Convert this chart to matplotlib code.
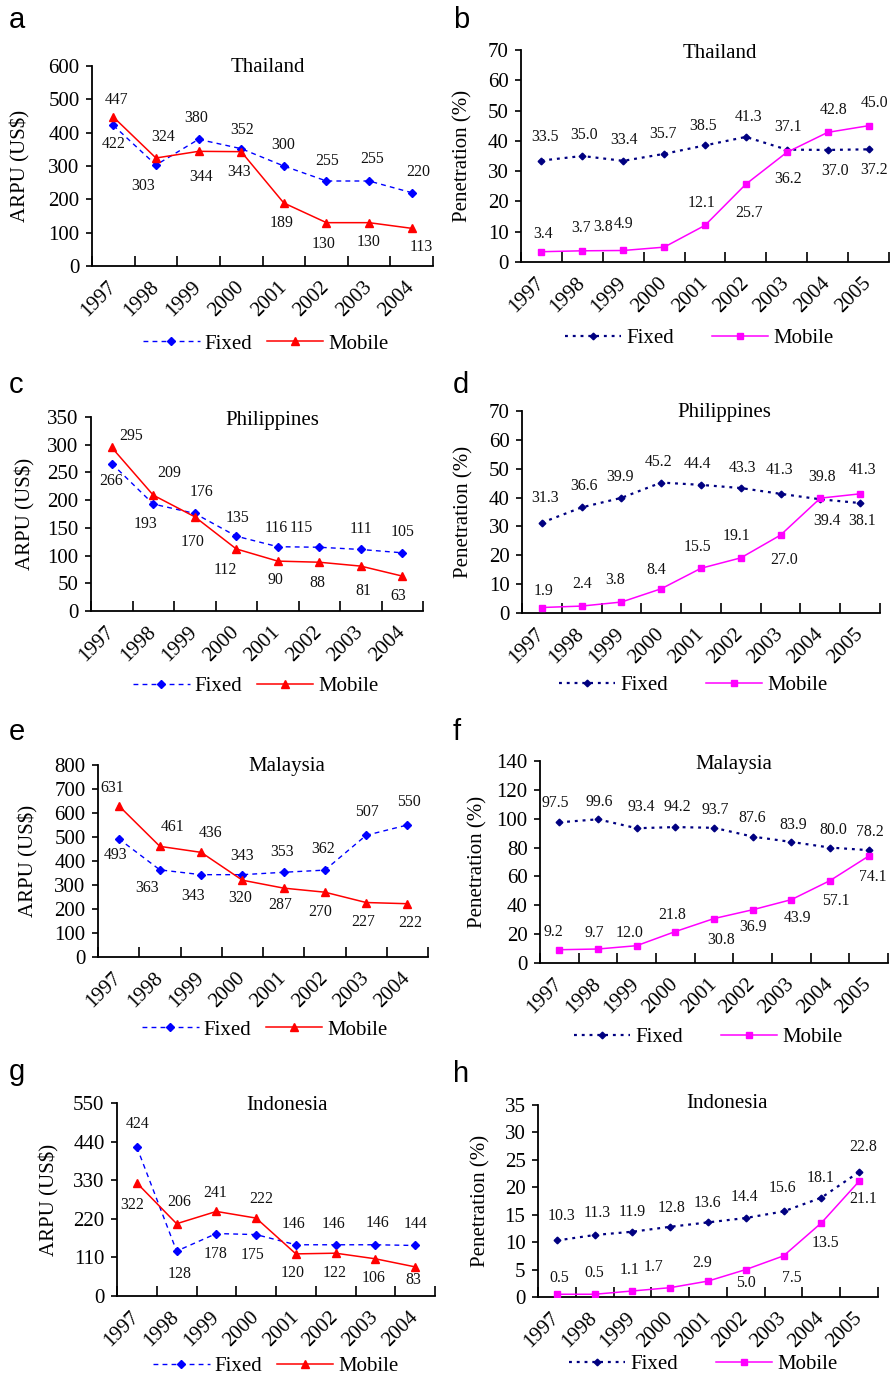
import matplotlib
matplotlib.use('Agg')
import matplotlib.pyplot as plt
import numpy as np

plt.rcParams['font.family'] = ['Liberation Serif', 'DejaVu Serif']

W, H = 891, 1377

# ---------------- data ----------------
years_arpu = ['1997', '1998', '1999', '2000', '2001', '2002', '2003', '2004']
years_pen = ['1997', '1998', '1999', '2000', '2001', '2002', '2003', '2004', '2005']

thai_arpu_fixed = [422, 303, 380, 352, 300, 255, 255, 220]
thai_arpu_mobile = [447, 324, 344, 343, 189, 130, 130, 113]
thai_pen_fixed = [33.5, 35.0, 33.4, 35.7, 38.5, 41.3, 37.1, 37.0, 37.2]
thai_pen_mobile = [3.4, 3.7, 3.8, 4.9, 12.1, 25.7, 36.2, 42.8, 45.0]

phil_arpu_fixed = [266, 193, 176, 135, 116, 115, 111, 105]
phil_arpu_mobile = [295, 209, 170, 112, 90, 88, 81, 63]
phil_pen_fixed = [31.3, 36.6, 39.9, 45.2, 44.4, 43.3, 41.3, 39.4, 38.1]
phil_pen_mobile = [1.9, 2.4, 3.8, 8.4, 15.5, 19.1, 27.0, 39.8, 41.3]

mal_arpu_fixed = [493, 363, 343, 343, 353, 362, 507, 550]
mal_arpu_mobile = [631, 461, 436, 320, 287, 270, 227, 222]
mal_pen_fixed = [97.5, 99.6, 93.4, 94.2, 93.7, 87.6, 83.9, 80.0, 78.2]
mal_pen_mobile = [9.2, 9.7, 12.0, 21.8, 30.8, 36.9, 43.9, 57.1, 74.1]

indo_arpu_fixed = [424, 128, 178, 175, 146, 146, 146, 144]
indo_arpu_mobile = [322, 206, 241, 222, 120, 122, 106, 83]
indo_pen_fixed = [10.3, 11.3, 11.9, 12.8, 13.6, 14.4, 15.6, 18.1, 22.8]
indo_pen_mobile = [0.5, 0.5, 1.1, 1.7, 2.9, 5.0, 7.5, 13.5, 21.1]

# ---------------- label offsets (pixels, dy up) ----------------
a_fo = [(0, -19), (-13, -21), (-2, 21), (1, 19), (-1, 21), (1, 20), (3, 22), (7, 21)]
a_mo = [(3, 17), (7, 21), (2, -26), (-2, -20), (-2, -20), (-3, -21), (-1, -19), (10, -19)]
b_fo = [(4, 24), (2, 21), (1, 21), (-1, 20), (-2, 19), (3, 20), (1, 23), (7, -21), (6, -21)]
b_mo = [(2, 18), (-1, 23), (-20, 23), (-41, 23), (-3, 22), (3, -29), (1, -27), (6, 22), (6, 23)]
c_fo = [(-1, -17), (-8, -20), (7, 21), (1, 18), (-2, 19), (-18, 19), (0, 20), (0, 21)]
c_mo = [(19, 11), (16, 22), (-2, -25), (-11, -21), (-2, -19), (-2, -21), (3, -25), (-4, -20)]
d_fo = [(3, 25), (2, 21), (-1, 21), (-3, 21), (-3, 21), (2, 20), (-1, 24), (7, -22), (2, -18)]
d_mo = [(2, 17), (0, 22), (-6, 22), (-5, 19), (-4, 21), (-4, 22), (4, -25), (2, 21), (2, 24)]
e_fo = [(-3, -16), (-13, -18), (-8, -21), (0, 19), (-2, 20), (-2, 21), (1, 23), (2, 23)]
e_mo = [(-6, 18), (13, 19), (9, 19), (-2, -18), (-3, -17), (-5, -20), (-3, -19), (3, -19)]
f_fo = [(-4, 19), (1, 17), (5, 21), (2, 20), (1, 18), (0, 19), (2, 17), (3, 18), (1, 18)]
f_mo = [(-6, 18), (-4, 16), (-7, 13), (-3, 17), (7, -21), (0, -17), (6, -18), (6, -20), (4, -21)]
g_fo = [(1, 23), (3, -23), (-1, -20), (-4, -20), (-2, 21), (-2, 21), (2, 22), (0, 21)]
g_mo = [(-5, -22), (3, 22), (-1, 18), (5, 19), (-3, -19), (-1, -20), (-2, -19), (-2, -13)]
h_fo = [(5, 24), (3, 22), (0, 20), (1, 19), (-1, 19), (-1, 21), (-1, 23), (-1, 20), (4, 25)]
h_mo = [(2, 16), (0, 21), (-3, 21), (-17, 21), (-6, 18), (0, -13), (8, -22), (4, -20), (4, -18)]

fig = plt.figure(figsize=(W / 100, H / 100), dpi=100)


def fx(x):
    return x / W


def fy(y):
    return 1 - y / H


def panel(letter, letter_xy, rect, title, title_xy, ylabel, ylabel_x, ymax, ystep,
          years, fixed, mobile, kind, off_f, off_m, legend_xy, colsp):
    l, t, r, b = rect
    ax = fig.add_axes([fx(l), fy(b), (r - l) / W, (b - t) / H])
    n = len(years)
    x = np.arange(n)
    if kind == 'arpu':
        ax.plot(x, fixed, color='#0000FF', lw=1.0, ls=(0, (3.5, 3.0)), marker='D',
                ms=4.0, mec='#0000FF', mfc='#0000FF', label='Fixed', zorder=3)
        ax.plot(x, mobile, color='#FF0000', lw=1.1, ls='-', marker='^',
                ms=6.0, mec='#FF0000', mfc='#FF0000', label='Mobile', zorder=4)
        fmt = '{:.0f}'
    else:
        ax.plot(x, fixed, color='#000080', lw=1.6, ls=(0, (1.3, 2.2)), marker='D',
                ms=3.4, mec='#000080', mfc='#000080', label='Fixed', zorder=3)
        ax.plot(x, mobile, color='#FF00FF', lw=1.1, ls='-', marker='s',
                ms=4.2, mec='#FF00FF', mfc='#FF00FF', label='Mobile', zorder=4)
        fmt = '{:.1f}'
    for xi, v, (dx, dy) in zip(x, fixed, off_f):
        ax.annotate(fmt.format(v), (xi, v), xytext=(dx, dy), textcoords='offset pixels',
                    ha='center', va='center', fontsize=11.4, color='#111111',
                    annotation_clip=False)
    for xi, v, (dx, dy) in zip(x, mobile, off_m):
        ax.annotate(fmt.format(v), (xi, v), xytext=(dx, dy), textcoords='offset pixels',
                    ha='center', va='center', fontsize=11.4, color='#111111',
                    annotation_clip=False)
    ax.set_xlim(-0.5, n - 0.5)
    ax.set_ylim(0, ymax)
    ax.set_yticks(np.arange(0, ymax + ystep / 2, ystep))
    ax.set_xticks(x)
    ax.set_xticklabels(years, rotation=45, ha='right', va='center', rotation_mode='anchor')
    ax.set_xticks(np.arange(-0.5, n, 1.0), minor=True)
    ax.tick_params(axis='x', which='major', length=0, pad=13, labelsize=15)
    ax.tick_params(axis='x', which='minor', direction='in', length=7, width=1.2)
    ax.tick_params(axis='y', which='major', direction='out', length=4, width=1.2,
                   pad=5, labelsize=15)
    for s in ['top', 'right']:
        ax.spines[s].set_visible(False)
    for s in ['left', 'bottom']:
        ax.spines[s].set_linewidth(1.3)
    ax.set_ylabel(ylabel, fontsize=15)
    ax.yaxis.set_label_coords((ylabel_x + 10 - l) / (r - l), 0.5)
    fig.text(fx(title_xy[0]), fy(title_xy[1] + 2), title, ha='center', va='center', fontsize=15)
    fig.text(fx(letter_xy[0]), fy(letter_xy[1]), letter, ha='left', va='baseline',
             fontsize=21, family=['Liberation Sans', 'DejaVu Sans'])
    ax.legend(loc='center', bbox_to_anchor=(fx(legend_xy[0]), fy(legend_xy[1])),
              bbox_transform=fig.transFigure, ncol=2, frameon=False, fontsize=15,
              handlelength=2.7, handletextpad=0.25, columnspacing=colsp,
              borderpad=0, borderaxespad=0)
    return ax


panel('a', (9, 28), (92, 66, 433, 266), 'Thailand', (268, 66), 'ARPU (US$)', 20,
      600, 100, years_arpu, thai_arpu_fixed, thai_arpu_mobile, 'arpu', a_fo, a_mo,
      (266, 344), 0.7)
panel('b', (453, 28), (521, 50, 889, 262), 'Thailand', (720, 52), 'Penetration (%)', 462,
      70, 10, years_pen, thai_pen_fixed, thai_pen_mobile, 'pen', b_fo, b_mo,
      (699, 338), 1.8)
panel('c', (9, 393), (91, 417, 423, 611), 'Philippines', (272, 419), 'ARPU (US$)', 25,
      350, 50, years_arpu, phil_arpu_fixed, phil_arpu_mobile, 'arpu', c_fo, c_mo,
      (256, 686), 0.7)
panel('d', (453, 393), (522, 411, 880, 613), 'Philippines', (724, 411), 'Penetration (%)', 463,
      70, 10, years_pen, phil_pen_fixed, phil_pen_mobile, 'pen', d_fo, d_mo,
      (693, 685), 1.8)
panel('e', (9, 740), (98, 765, 428, 957), 'Malaysia', (287, 764), 'ARPU (US$)', 28,
      800, 100, years_arpu, mal_arpu_fixed, mal_arpu_mobile, 'arpu', e_fo, e_mo,
      (265, 1030), 0.7)
panel('f', (453, 740), (540, 761, 888, 963), 'Malaysia', (734, 762), 'Penetration (%)', 477,
      140, 20, years_pen, mal_pen_fixed, mal_pen_mobile, 'pen', f_fo, f_mo,
      (708, 1037), 1.8)
panel('g', (9, 1080), (117, 1103, 435, 1296), 'Indonesia', (287, 1103), 'ARPU (US$)', 49,
      550, 110, years_arpu, indo_arpu_fixed, indo_arpu_mobile, 'arpu', g_fo, g_mo,
      (276, 1366), 0.7)
panel('h', (453, 1082), (538, 1105, 878, 1297), 'Indonesia', (727, 1102), 'Penetration (%)', 480,
      35, 5, years_pen, indo_pen_fixed, indo_pen_mobile, 'pen', h_fo, h_mo,
      (703, 1364), 1.8)

fig.savefig('out.png', dpi=100, facecolor='white')
